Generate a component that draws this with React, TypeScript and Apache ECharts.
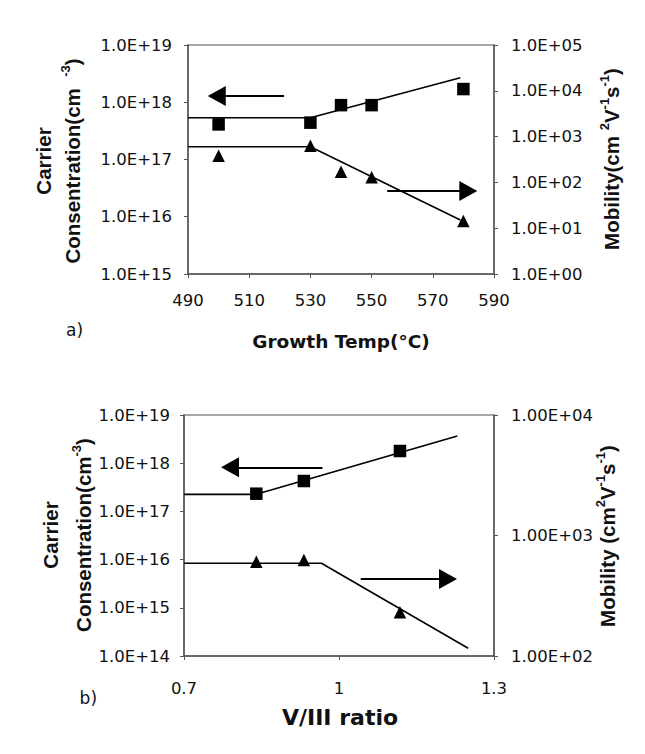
import { useEffect, useRef } from 'react';
import * as echarts from 'echarts';

// (a) growth temperature
const tempX = [500, 530, 540, 550, 580];
const carrierA = [4.1e17, 4.4e17, 8.9e17, 8.9e17, 1.7e18];
const mobilityA = [383, 633, 171, 129, 14.4];
const carrierFitAX = [490, 530, 579];
const carrierFitAY = [5.37e17, 5.37e17, 2.68e18];
const mobilityFitAX = [490, 530, 579];
const mobilityFitAY = [602, 602, 15.1];
const tempTicks = [490, 510, 530, 550, 570, 590];

// (b) V/III ratio
const ratioX = [0.84, 0.932, 1.118];
const carrierB = [2.33e17, 4.27e17, 1.79e18];
const mobilityB = [606, 626, 231];
const carrierFitBX = [0.7, 0.84, 1.229];
const carrierFitBY = [2.26e17, 2.26e17, 3.67e18];
const mobilityFitBX = [0.7, 0.966, 1.25];
const mobilityFitBY = [588, 588, 116];
const ratioTicks = [0.7, 1, 1.3];

// arrows pointing to the axis each curve belongs to: [x start, x end, y]
const arrowCarrierA = [521.4, 499.4, 1.29e18];
const arrowMobilityA = [555.1, 581.6, 64.9];
const arrowCarrierB = [0.968, 0.789, 8.2e17];
const arrowMobilityB = [1.042, 1.211, 436];

const zip = (xs: number[], ys: number[]) => xs.map((x, i) => [x, ys[i]]);

const sci = (mant: string) => (v: number) => {
  const e = Math.round(Math.log10(v));
  const a = Math.abs(e);
  return mant + 'E' + (e < 0 ? '-' : '+') + (a < 10 ? '0' : '') + a;
};

const tickFont = { fontFamily: 'DejaVu Sans', fontSize: 16.5, color: '#111' };
const axisLineStyle = { color: '#555', width: 1.5 };

function fitLine(gi: number, yi: number, data: number[][], arrow: number[]) {
  return {
    type: 'line',
    xAxisIndex: gi,
    yAxisIndex: yi,
    data,
    symbol: 'none',
    silent: true,
    lineStyle: { color: '#000', width: 1.6 },
    markLine: {
      silent: true,
      symbol: ['none', 'triangle'],
      symbolSize: [20, 18],
      label: { show: false },
      emphasis: { disabled: true },
      itemStyle: { color: '#000' },
      lineStyle: { color: '#000', width: 2, type: 'solid' },
      data: [[{ coord: [arrow[0], arrow[2]] }, { coord: [arrow[1], arrow[2]] }]],
    },
  };
}

function marks(gi: number, yi: number, data: number[][], symbol: string) {
  return {
    type: 'scatter',
    xAxisIndex: gi,
    yAxisIndex: yi,
    data,
    symbol,
    symbolSize: 12.5,
    silent: true,
    itemStyle: { color: '#000', opacity: 1 },
  };
}

function xAxis(gi: number, min: number, max: number, ticks: number[], margin: number) {
  return {
    gridIndex: gi,
    type: 'value',
    min,
    max,
    axisLine: { show: true, onZero: false, lineStyle: axisLineStyle },
    axisTick: { show: true, customValues: ticks, length: 4, lineStyle: { color: '#555' } },
    axisLabel: {
      customValues: ticks,
      margin,
      ...tickFont,
      formatter: (v: number) => String(Math.round(v * 10) / 10),
    },
    splitLine: { show: false },
  };
}

function yAxis(gi: number, pos: string, min: number, max: number, mant: string, margin: number) {
  return {
    gridIndex: gi,
    type: 'log',
    logBase: 10,
    position: pos,
    min,
    max,
    axisLine: { show: true, onZero: false, lineStyle: axisLineStyle },
    axisTick: { show: true, length: 4, lineStyle: { color: '#555' } },
    axisLabel: { margin, ...tickFont, formatter: sci(mant) },
    splitLine: { show: false },
    minorTick: { show: false },
  };
}

const FAMILY = 'Liberation Sans';
const titleRich = {
  b: { fontFamily: FAMILY, fontWeight: 'bold', fontSize: 20.5, lineHeight: 24, verticalAlign: 'bottom', fill: '#111' },
  sup: { fontFamily: FAMILY, fontWeight: 'bold', fontSize: 13, lineHeight: 13, verticalAlign: 'top', fill: '#111' },
};

// rotated axis title, reading bottom to top
function vTitle(x: number, y: number, text: string) {
  return {
    type: 'text',
    x,
    y,
    rotation: Math.PI / 2,
    style: {
      text,
      rich: titleRich,
      align: 'center',
      verticalAlign: 'middle',
      fontFamily: FAMILY,
      fontWeight: 'bold',
      fontSize: 20.5,
      fill: '#111',
    },
  };
}

export default function App() {
  const ref = useRef<HTMLDivElement>(null);

  useEffect(() => {
    if (!ref.current) return;
    const chart = echarts.init(ref.current, null, { renderer: 'svg' });
    const gridStyle = { show: true, borderColor: '#8a8a8a', borderWidth: 1.5 };
    chart.setOption({
      animation: false,
      backgroundColor: '#fff',
      grid: [
        { left: 188, top: 45, width: 306, height: 229, ...gridStyle },
        { left: 184, top: 415, width: 310, height: 241, ...gridStyle },
      ],
      xAxis: [
        xAxis(0, 490, 590, tempTicks, 17.5),
        xAxis(1, 0.7, 1.3, ratioTicks, 23.5),
      ],
      yAxis: [
        yAxis(0, 'left', 1e15, 1e19, '1.0', 16),
        yAxis(0, 'right', 1, 1e5, '1.0', 17),
        yAxis(1, 'left', 1e14, 1e19, '1.0', 14),
        yAxis(1, 'right', 1e2, 1e4, '1.00', 17),
      ],
      series: [
        fitLine(0, 0, zip(carrierFitAX, carrierFitAY), arrowCarrierA),
        fitLine(0, 1, zip(mobilityFitAX, mobilityFitAY), arrowMobilityA),
        marks(0, 0, zip(tempX, carrierA), 'rect'),
        marks(0, 1, zip(tempX, mobilityA), 'triangle'),
        fitLine(1, 2, zip(carrierFitBX, carrierFitBY), arrowCarrierB),
        fitLine(1, 3, zip(mobilityFitBX, mobilityFitBY), arrowMobilityB),
        marks(1, 2, zip(ratioX, carrierB), 'rect'),
        marks(1, 3, zip(ratioX, mobilityB), 'triangle'),
      ],
      graphic: [
        vTitle(41.6, 161, '{b|Carrier}'),
        vTitle(71.2, 161, '{b|Consentration(cm  }{sup|-3}{b|)}'),
        vTitle(610, 159, '{b|Mobility(cm }{sup|2}{b|V}{sup|-1}{b|s}{sup|-1}{b|)}'),
        {
          type: 'text', x: 341, y: 341,
          style: { text: 'Growth Temp(°C)', align: 'center', verticalAlign: 'middle', fontFamily: 'DejaVu Sans', fontWeight: 'bold', fontSize: 18.5, fill: '#111' },
        },
        {
          type: 'text', x: 66, y: 330,
          style: { text: 'a)', align: 'left', verticalAlign: 'middle', fontFamily: 'DejaVu Sans', fontSize: 17, fill: '#111' },
        },
        vTitle(48.8, 535, '{b|Carrier}'),
        vTitle(81.6, 535, '{b|Consentration(cm}{sup|-3}{b|)}'),
        vTitle(606, 536, '{b|Mobility (cm}{sup|2}{b|V}{sup|-1}{b|s}{sup|-1}{b|)}'),
        {
          type: 'text', x: 340, y: 717,
          style: { text: 'V/III ratio', align: 'center', verticalAlign: 'middle', fontFamily: 'DejaVu Sans', fontWeight: 'bold', fontSize: 22, fill: '#111' },
        },
        {
          type: 'text', x: 79.6, y: 698,
          style: { text: 'b)', align: 'left', verticalAlign: 'middle', fontFamily: 'DejaVu Sans', fontSize: 17, fill: '#111' },
        },
      ],
    });
    return () => chart.dispose();
  }, []);

  return (
    <div
      ref={ref}
      style={{ position: 'absolute', left: 0, top: 0, width: 645, height: 754, background: '#fff' }}
    />
  );
}
